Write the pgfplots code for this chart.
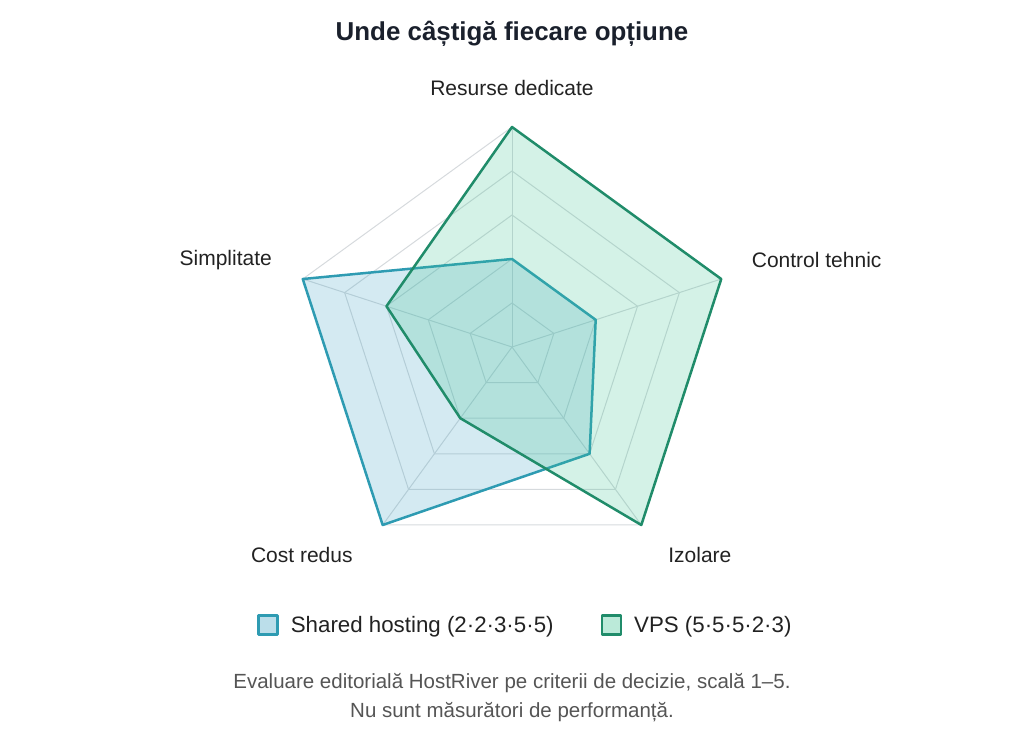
\documentclass[border=0pt]{standalone}
\usepackage{pgfplots}
\pgfplotsset{compat=1.18}
\usepgfplotslibrary{polar}
\usepackage{fontspec}
\setmainfont{Liberation Sans}
\definecolor{gridc}{RGB}{214,218,221}
\definecolor{sharedc}{RGB}{46,155,178}
\definecolor{sharedfill}{RGB}{60,160,195}
\definecolor{vpsc}{RGB}{32,140,106}
\definecolor{vpsfill}{RGB}{60,195,145}
\definecolor{titlec}{RGB}{26,32,44}
\definecolor{labelc}{RGB}{34,34,34}
\definecolor{footc}{RGB}{85,85,85}
\begin{document}
\begin{tikzpicture}
\useasboundingbox (0,0) rectangle (1024pt,731pt);
\node[font=\fontsize{25.9}{30}\selectfont\bfseries, text=titlec] at (512pt,697pt) {Unde câștigă fiecare opțiune};
\begin{polaraxis}[
  at={(512pt,384pt)}, anchor=center,
  scale only axis, width=440pt, height=440pt,
  xmin=0, xmax=360, ymin=0, ymax=5,
  hide axis, clip=false,
  legend columns=2,
  legend style={draw=none, fill=none, at={(-0.086,-0.132)}, anchor=west,
    font=\fontsize{22.3}{26}\selectfont, text=labelc,
    /tikz/every even column/.append style={column sep=45pt}},
  legend image code/.code={\draw[#1, fill opacity=0.35] (0pt,-9.5pt) rectangle (19pt,9.5pt); \path (29pt,0pt);},
]
\pgfplotsinvokeforeach{1,...,5}{
  \addplot[gridc, line width=1pt, forget plot] coordinates {(90,#1) (18,#1) (306,#1) (234,#1) (162,#1) (90,#1)};
}
\pgfplotsinvokeforeach{90,18,306,234,162}{
  \addplot[gridc, line width=1pt, forget plot] coordinates {(#1,0) (#1,5)};
}
\addplot[draw=sharedc, line width=2.5pt, fill=sharedfill, fill opacity=0.22, line join=round]
  coordinates {(90,2) (18,2) (306,3) (234,5) (162,5)} -- cycle;
\addlegendentry{Shared hosting (2·2·3·5·5)}
\addplot[draw=vpsc, line width=2.5pt, fill=vpsfill, fill opacity=0.22, line join=round]
  coordinates {(90,5) (18,5) (306,5) (234,2) (162,3)} -- cycle;
\addlegendentry{VPS (5·5·5·2·3)}
\node[font=\fontsize{21}{25}\selectfont, text=labelc] at (axis cs:90,5.89) {Resurse dedicate};
\node[font=\fontsize{21}{25}\selectfont, text=labelc] at (axis cs:15.9,7.2) {Control tehnic};
\node[font=\fontsize{21}{25}\selectfont, text=labelc] at (axis cs:312.1,6.37) {Izolare};
\node[font=\fontsize{21}{25}\selectfont, text=labelc] at (axis cs:224.7,6.72) {Cost redus};
\node[font=\fontsize{21}{25}\selectfont, text=labelc] at (axis cs:163.1,6.8) {Simplitate};
\end{polaraxis}
\node[font=\fontsize{20.5}{24}\selectfont, text=footc] at (512pt,48pt) {Evaluare editorială HostRiver pe criterii de decizie, scală 1–5.};
\node[font=\fontsize{20.5}{24}\selectfont, text=footc] at (512pt,19pt) {Nu sunt măsurători de performanță.};
\end{tikzpicture}
\end{document}
